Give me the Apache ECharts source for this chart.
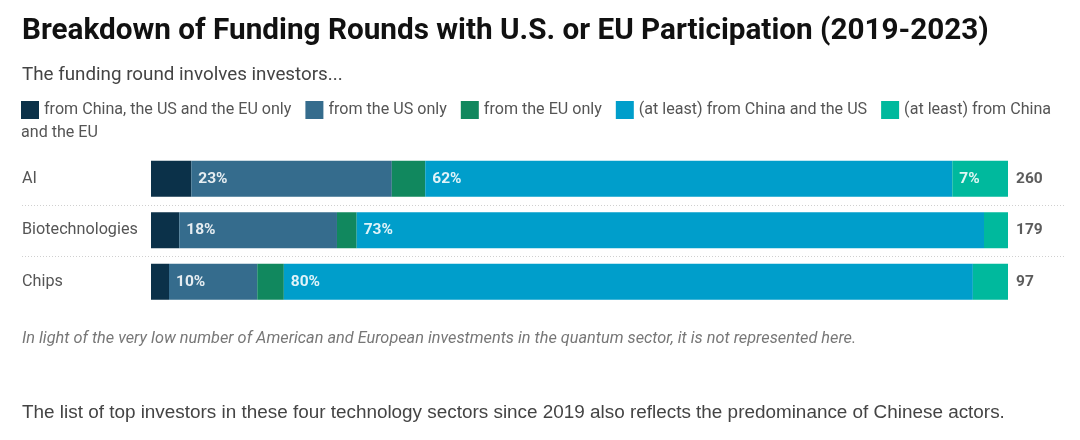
<!DOCTYPE html>
<html>
<head>
<meta charset="utf-8">
<script src="https://cdn.jsdelivr.net/npm/echarts@6/dist/echarts.min.js"></script>
<style>html,body{margin:0;padding:0;background:#fff}#c{width:1080px;height:440px}</style>
</head>
<body>
<div id="c"></div>
<script>
const categories = ['AI', 'Biotechnologies', 'Chips'];
const seriesNames = [
  'from China, the US and the EU only',
  'from the US only',
  'from the EU only',
  '(at least) from China and the US',
  '(at least) from China and the EU'
];
const colors = ['#0b3149', '#356c8d', '#11885e', '#009ecb', '#00b99d'];
// share of funding rounds (%) per category
const shareCnUsEu = [4.7, 3.3, 2.1];
const shareUsOnly = [23.4, 18.4, 10.3];
const shareEuOnly = [3.9, 2.3, 3.1];
const shareCnUs   = [61.5, 73.2, 80.4];
const shareCnEu   = [6.5, 2.8, 4.1];
const totals = [260, 179, 97];

const shares = [shareCnUsEu, shareUsOnly, shareEuOnly, shareCnUs, shareCnEu];

const gridLeft = 151, gridRight = 72, gridTop = 153, rowH = 51.5;
const gridH = rowH * categories.length;

const chart = echarts.init(document.getElementById('c'), null, {renderer: 'canvas'});

const barSeries = shares.map((arr, si) => ({
  name: seriesNames[si],
  type: 'bar',
  stack: 'all',
  barWidth: 36,
  itemStyle: {color: colors[si]},
  emphasis: {disabled: true},
  label: {
    show: true,
    position: 'insideLeft',
    distance: 7,
    color: 'rgba(255,255,255,0.88)',
    fontFamily: 'Roboto',
    fontWeight: 'bold',
    fontSize: 15.5,
    formatter: p => p.value >= 6 ? Math.round(p.value) + '%' : ''
  },
  data: arr
}));

const totalSeries = {
  name: 'total',
  type: 'scatter',
  symbolSize: 0,
  silent: true,
  label: {
    show: true,
    position: 'right',
    distance: 8,
    color: '#333',
    fontFamily: 'Roboto',
    fontWeight: 'bold',
    fontSize: 15.5,
    formatter: p => String(totals[p.dataIndex])
  },
  data: categories.map((c, i) => [100, c])
};

const sepLines = [];
for (let i = 1; i < categories.length; i++) {
  const y = Math.round(gridTop + rowH * i) + 0.5;
  sepLines.push({
    type: 'line',
    shape: {x1: 22, y1: y, x2: 1066, y2: y},
    style: {stroke: '#d0d0d0', lineWidth: 1, lineDash: [1, 2]},
    silent: true
  });
}

chart.setOption({
  animation: false,
  title: [
    {
      text: 'Breakdown of Funding Rounds with U.S. or EU Participation (2019-2023)',
      left: 22, top: 17, padding: 0,
      textStyle: {fontFamily: 'Roboto', fontWeight: 'bold', fontSize: 29.7, color: '#111'}
    },
    {
      text: 'The funding round involves investors...',
      left: 22, top: 66, padding: 0,
      textStyle: {fontFamily: 'Roboto', fontWeight: 'normal', fontSize: 18.8, color: '#444'}
    },
    {
      text: 'and the EU',
      left: 21, top: 125, padding: 0,
      textStyle: {fontFamily: 'Roboto', fontWeight: 'normal', fontSize: 16.1, color: '#555'}
    },
    {
      text: 'In light of the very low number of American and European investments in the quantum sector, it is not represented here.',
      left: 22, top: 331, padding: 0,
      textStyle: {fontFamily: 'Roboto', fontStyle: 'italic', fontWeight: 'normal', fontSize: 16.3, color: '#777'}
    },
    {
      text: 'The list of top investors in these four technology sectors since 2019 also reflects the predominance of Chinese actors.',
      left: 22, top: 403, padding: 0,
      textStyle: {fontFamily: 'Liberation Sans', fontWeight: 'normal', fontSize: 18.9, color: '#444'}
    }
  ],
  legend: {
    data: seriesNames.map(n => ({name: n, icon: 'rect'})),
    left: 21, top: 101, padding: 0, width: 1059,
    itemWidth: 18, itemHeight: 18, itemGap: 14,
    selectedMode: false,
    textStyle: {fontFamily: 'Roboto', fontSize: 16.1, color: '#555'},
    formatter: n => n === '(at least) from China and the EU' ? '(at least) from China' : n
  },
  grid: {left: gridLeft, right: gridRight, top: gridTop, height: gridH},
  xAxis: {
    type: 'value', min: 0, max: 100, show: false
  },
  yAxis: {
    type: 'category',
    data: categories,
    inverse: true,
    axisLine: {show: false},
    axisTick: {show: false},
    splitLine: {show: false},
    axisLabel: {
      align: 'left',
      margin: gridLeft - 22,
      fontFamily: 'Roboto',
      fontSize: 16.2,
      color: '#555'
    }
  },
  graphic: sepLines,
  series: barSeries.concat([totalSeries])
});
</script>
</body>
</html>
